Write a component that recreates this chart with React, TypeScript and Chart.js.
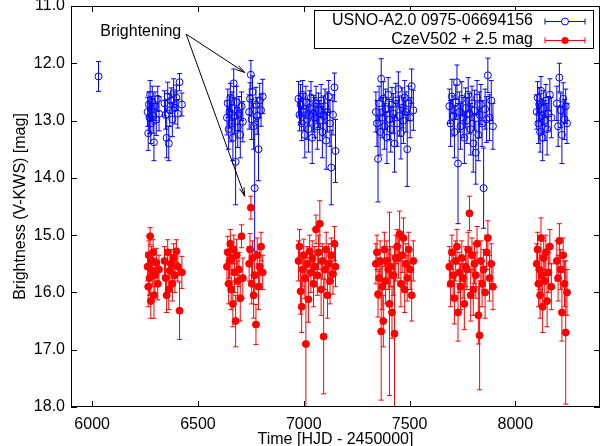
import { useEffect, useRef } from "react";
import { Chart, registerables } from "chart.js";

Chart.register(...registerables);

// Observation times [HJD - 2450000]
const times = [
  6030,
  6262, 6265, 6268, 6271, 6274, 6277, 6280, 6284, 6288, 6292, 6297, 6303, 6310, 6316,
  6342, 6347, 6352, 6357, 6362, 6367, 6373, 6379, 6385, 6391, 6398, 6405, 6413, 6424,
  6637, 6641, 6645, 6649, 6653, 6657, 6661, 6665, 6669, 6673, 6678, 6683, 6688, 6694, 6700, 6706, 6712,
  6742, 6746, 6750, 6754, 6758, 6763, 6768, 6774, 6780, 6786, 6792, 6798, 6806,
  6975, 6980, 6985, 6990, 6995, 7000, 7005, 7010, 7016, 7022, 7028, 7034, 7040, 7046, 7052, 7058,
  7064, 7070, 7076, 7082, 7088, 7094, 7100, 7106, 7112, 7118, 7124, 7130, 7138, 7145, 7150,
  7341, 7346, 7351, 7356, 7361, 7366, 7371, 7376, 7381, 7387, 7393, 7399, 7405, 7411, 7417, 7423,
  7429, 7435, 7441, 7447, 7453, 7459, 7465, 7471, 7477, 7483, 7489, 7496, 7503, 7510, 7518,
  7688, 7694, 7700, 7706, 7712, 7718, 7724, 7729, 7735, 7741, 7747, 7753, 7759, 7765, 7771, 7777, 7783,
  7789, 7795, 7801, 7807, 7813, 7819, 7825, 7831, 7837, 7843, 7850, 7857, 7864, 7870, 7878, 7886, 7894,
  8101, 8105, 8109, 8113, 8117, 8121, 8125, 8129, 8134, 8139, 8144, 8150, 8156, 8163, 8170,
  8196, 8202, 8208, 8214, 8220, 8226, 8232, 8238, 8244,
];

// USNO-A2.0 0975-06694156 magnitudes and errors
const blueMag = [
  12.23,
  12.85, 13.22, 12.72, 12.95, 12.55, 13.05, 12.80, 12.68, 12.92, 13.38, 12.75, 12.98, 12.62, 12.88,
  12.70, 12.90, 13.30, 12.58, 13.40, 12.82, 12.65, 12.98, 12.52, 12.78, 12.60, 12.88, 12.33, 12.72,
  12.95, 12.70, 13.15, 12.85, 12.60, 13.05, 12.78, 13.30, 12.35, 12.92, 13.72, 12.68, 13.12, 12.88, 13.25, 12.75, 13.02,
  12.85, 12.62, 12.20, 12.98, 12.50, 13.10, 14.18, 12.72, 12.92, 13.50, 12.65, 12.82, 12.58,
  12.62, 12.90, 12.72, 13.05, 12.55, 12.85, 13.25, 12.68, 12.98, 13.15, 12.78, 12.60, 13.30, 12.88, 12.95, 12.70,
  13.10, 12.82, 13.00, 12.65, 13.20, 12.92, 12.75, 13.35, 12.85, 12.58, 13.05, 13.82, 12.90, 12.42, 13.53,
  12.85, 13.05, 13.67, 12.70, 13.20, 12.27, 12.95, 12.62, 13.10, 12.80, 13.30, 12.55, 12.98, 13.15, 12.72, 12.88,
  13.40, 12.65, 13.05, 12.45, 12.92, 13.22, 12.78, 13.00, 12.60, 12.85, 13.50, 12.70, 12.95, 12.40, 12.82,
  12.75, 13.05, 12.58, 12.92, 13.20, 12.68, 12.33, 13.75, 12.85, 13.10, 12.62, 12.95, 13.30, 12.78, 13.00, 12.55, 12.88,
  13.15, 12.70, 13.40, 12.82, 13.56, 12.60, 13.25, 12.90, 12.72, 13.05, 14.18, 12.80, 12.98, 12.21, 12.95, 12.65, 13.10,
  12.85, 12.60, 13.05, 12.72, 13.20, 12.48, 12.92, 13.30, 12.78, 13.00, 12.65, 13.15, 12.88, 12.55, 12.95,
  12.70, 13.10, 12.25, 12.82, 13.25, 12.62, 12.98, 12.75, 13.05,
];
const blueErr = [
  0.26,
  0.25, 0.30, 0.22, 0.28, 0.25, 0.35, 0.22, 0.28, 0.30, 0.32, 0.25, 0.28, 0.22, 0.30,
  0.22, 0.25, 0.35, 0.25, 0.30, 0.28, 0.22, 0.30, 0.25, 0.28, 0.22, 0.25, 0.15, 0.20,
  0.30, 0.25, 0.35, 0.28, 0.25, 0.32, 0.28, 0.40, 0.25, 0.30, 0.75, 0.28, 0.35, 0.30, 0.40, 0.25, 0.35,
  0.30, 0.28, 0.25, 0.35, 0.28, 0.40, 1.10, 0.30, 0.32, 0.55, 0.30, 0.28, 0.30,
  0.30, 0.28, 0.35, 0.30, 0.25, 0.32, 0.40, 0.28, 0.35, 0.40, 0.30, 0.28, 0.45, 0.32, 0.35, 0.30,
  0.40, 0.30, 0.35, 0.28, 0.45, 0.35, 0.30, 0.50, 0.35, 0.28, 0.40, 0.65, 0.35, 0.25, 0.55,
  0.35, 0.40, 0.75, 0.30, 0.40, 0.35, 0.35, 0.30, 0.40, 0.35, 0.45, 0.30, 0.35, 0.40, 0.30, 0.35,
  0.50, 0.30, 0.40, 0.30, 0.35, 0.45, 0.35, 0.40, 0.30, 0.35, 0.65, 0.30, 0.35, 0.30, 0.35,
  0.30, 0.40, 0.30, 0.35, 0.45, 0.30, 0.30, 1.05, 0.35, 0.40, 0.30, 0.35, 0.45, 0.35, 0.40, 0.30, 0.35,
  0.45, 0.30, 0.50, 0.35, 0.55, 0.30, 0.45, 0.40, 0.35, 0.40, 0.70, 0.35, 0.40, 0.30, 0.40, 0.35, 0.40,
  0.30, 0.28, 0.35, 0.30, 0.35, 0.25, 0.30, 0.40, 0.30, 0.35, 0.28, 0.45, 0.30, 0.28, 0.35,
  0.30, 0.35, 0.25, 0.30, 0.50, 0.28, 0.35, 0.30, 0.35,
];

// CzeV502 + 2.5 mag magnitudes and errors (no measurement at the first epoch)
const redMag: (number | null)[] = [
  null,
  15.55, 15.90, 15.35, 15.75, 15.02, 16.15, 15.45, 15.62, 15.30, 16.05, 15.70, 15.48, 15.85, 15.60,
  15.45, 15.75, 16.05, 15.30, 15.95, 15.62, 15.50, 15.85, 15.40, 15.70, 15.28, 15.55, 16.32, 15.65,
  15.55, 15.30, 15.85, 15.45, 15.15, 15.95, 15.40, 16.20, 15.25, 15.65, 16.50, 15.35, 15.80, 15.60, 16.10, 15.02, 15.75,
  15.50, 15.25, 14.52, 15.85, 15.40, 16.05, 15.70, 16.56, 15.35, 15.90, 15.55, 15.20, 15.65,
  15.45, 15.20, 15.98, 16.25, 15.60, 15.35, 15.75, 16.90, 15.50, 16.12, 15.28, 15.65, 15.40, 15.85, 15.55, 14.90,
  15.70, 15.30, 14.80, 15.95, 15.45, 16.77, 15.60, 15.25, 16.05, 15.50, 15.80, 15.35, 15.68, 15.15, 15.55,
  15.50, 15.30, 16.03, 15.75, 15.45, 16.68, 15.90, 16.50, 15.25, 15.80, 15.45, 15.60, 16.20, 15.55, 16.35, 15.70,
  16.72, 15.40, 15.20, 15.40, 14.98, 15.85, 15.35, 15.05, 15.95, 15.50, 15.75, 15.25, 15.60, 16.05, 15.45,
  15.55, 15.85, 15.30, 15.70, 16.10, 15.45, 15.20, 16.35, 15.65, 15.90, 15.40, 15.75, 16.20, 15.55, 15.60, 15.25, 14.62,
  16.05, 15.35, 15.95, 15.50, 15.70, 15.15, 16.40, 16.75, 15.45, 15.85, 15.60, 16.00, 15.30, 15.05, 15.75, 15.50, 15.90,
  15.50, 15.25, 15.85, 15.60, 16.05, 15.05, 15.70, 16.25, 15.40, 15.80, 15.30, 16.15, 15.65, 15.20, 15.90,
  15.45, 15.75, 15.10, 15.60, 16.35, 15.35, 15.85, 16.70, 16.00,
];
const redErr = [
  0,
  0.25, 0.35, 0.25, 0.30, 0.15, 0.30, 0.25, 0.28, 0.22, 0.40, 0.30, 0.25, 0.28, 0.25,
  0.25, 0.30, 0.30, 0.22, 0.35, 0.28, 0.25, 0.30, 0.25, 0.30, 0.20, 0.25, 0.50, 0.28,
  0.30, 0.28, 0.35, 0.30, 0.25, 0.35, 0.28, 0.40, 0.25, 0.35, 0.45, 0.28, 0.35, 0.30, 0.40, 0.20, 0.35,
  0.30, 0.28, 0.20, 0.35, 0.30, 0.40, 0.35, 0.35, 0.30, 0.40, 0.30, 0.25, 0.30,
  0.35, 0.30, 0.40, 0.45, 0.30, 0.28, 0.35, 1.40, 0.30, 0.40, 0.28, 0.35, 0.30, 0.40, 0.35, 0.25,
  0.35, 0.30, 0.40, 0.45, 0.30, 1.00, 0.35, 0.30, 0.40, 0.35, 0.40, 0.30, 0.35, 0.30, 0.35,
  0.35, 0.30, 0.40, 0.35, 0.35, 1.20, 0.40, 0.45, 0.30, 0.40, 0.35, 0.35, 1.60, 0.35, 0.45, 0.35,
  1.50, 0.40, 0.30, 0.35, 0.40, 0.40, 0.30, 0.35, 0.40, 0.35, 0.40, 0.30, 0.35, 0.45, 0.35,
  0.35, 0.40, 0.30, 0.35, 0.45, 0.35, 0.30, 0.50, 0.35, 0.40, 0.30, 0.35, 0.45, 0.35, 0.35, 0.30, 0.30,
  0.45, 0.30, 0.45, 0.35, 0.40, 0.30, 0.50, 0.95, 0.35, 0.40, 0.35, 0.45, 0.30, 0.30, 0.40, 0.35, 0.40,
  0.35, 0.30, 0.40, 0.35, 0.40, 0.35, 0.35, 0.45, 0.30, 0.40, 0.30, 0.45, 0.35, 0.30, 0.40,
  0.35, 0.40, 0.30, 0.35, 0.50, 0.30, 0.40, 1.25, 0.40,
];

const xTicks = [6000, 6500, 7000, 7500, 8000];
const yTicks = [11, 12, 13, 14, 15, 16, 17, 18];
const seriesLabels = ["USNO-A2.0 0975-06694156", "CzeV502 + 2.5 mag"];
const seriesColors = ["#0000ff", "#ff0000"];
const annotationText = "Brightening";
// annotation anchor points in data coordinates [time, mag]
const annotationTextAt = [6421, 11.44];
const arrowStart = [6444, 11.49];
const arrowEnds = [
  [6721, 12.16],
  [6721, 14.32],
];

const FONT = "'Liberation Sans', Arial, sans-serif";

const errorBarPlugin = {
  id: "errorBars",
  beforeDatasetDraw(chart: any, args: any) {
    const ds = chart.data.datasets[args.index];
    const errs: number[] = ds.errors;
    if (!errs) return;
    const { ctx, chartArea } = chart;
    const xs = chart.scales.x;
    const ys = chart.scales.y;
    ctx.save();
    ctx.beginPath();
    ctx.rect(chartArea.left, chartArea.top, chartArea.right - chartArea.left, chartArea.bottom - chartArea.top);
    ctx.clip();
    ctx.strokeStyle = ds.borderColor;
    ctx.lineWidth = 1;
    ctx.beginPath();
    ds.data.forEach((p: any, i: number) => {
      const e = errs[i];
      const px = xs.getPixelForValue(p.x);
      const y1 = ys.getPixelForValue(p.y - e);
      const y2 = ys.getPixelForValue(p.y + e);
      ctx.moveTo(px, y1);
      ctx.lineTo(px, y2);
      ctx.moveTo(px - 2.5, y1);
      ctx.lineTo(px + 2.5, y1);
      ctx.moveTo(px - 2.5, y2);
      ctx.lineTo(px + 2.5, y2);
    });
    ctx.stroke();
    ctx.restore();
  },
};

const framePlugin = {
  id: "frameAndDecor",
  afterDraw(chart: any) {
    const { ctx, chartArea } = chart;
    const { left, right, top, bottom } = chartArea;
    const xs = chart.scales.x;
    const ys = chart.scales.y;
    ctx.save();
    // frame
    ctx.strokeStyle = "#000";
    ctx.lineWidth = 1;
    ctx.strokeRect(left + 0.5, top + 0.5, right - left - 1, bottom - top - 1);
    // inward ticks, mirrored
    const tl = 6;
    ctx.beginPath();
    xTicks.forEach((v) => {
      const px = Math.round(xs.getPixelForValue(v)) + 0.5;
      ctx.moveTo(px, bottom);
      ctx.lineTo(px, bottom - tl);
      ctx.moveTo(px, top);
      ctx.lineTo(px, top + tl);
    });
    yTicks.forEach((v) => {
      const py = Math.round(ys.getPixelForValue(v)) + 0.5;
      ctx.moveTo(left, py);
      ctx.lineTo(left + tl, py);
      ctx.moveTo(right, py);
      ctx.lineTo(right - tl, py);
    });
    ctx.stroke();

    // annotation
    ctx.fillStyle = "#000";
    ctx.font = `16px ${FONT}`;
    ctx.textAlign = "right";
    ctx.textBaseline = "middle";
    ctx.fillText(
      annotationText,
      xs.getPixelForValue(annotationTextAt[0]),
      ys.getPixelForValue(annotationTextAt[1])
    );
    const sx = xs.getPixelForValue(arrowStart[0]);
    const sy = ys.getPixelForValue(arrowStart[1]);
    ctx.lineWidth = 1;
    arrowEnds.forEach(([ex0, ey0]) => {
      const ex = xs.getPixelForValue(ex0);
      const ey = ys.getPixelForValue(ey0);
      ctx.beginPath();
      ctx.moveTo(sx, sy);
      ctx.lineTo(ex, ey);
      const ang = Math.atan2(ey - sy, ex - sx);
      const hl = 9;
      const ha = 0.26;
      ctx.moveTo(ex - hl * Math.cos(ang - ha), ey - hl * Math.sin(ang - ha));
      ctx.lineTo(ex, ey);
      ctx.lineTo(ex - hl * Math.cos(ang + ha), ey - hl * Math.sin(ang + ha));
      ctx.stroke();
    });

    // legend (key)
    const boxR = right - 7;
    const boxL = boxR - 279;
    const boxT = top + 4;
    const boxB = boxT + 38;
    ctx.fillStyle = "#fff";
    ctx.fillRect(boxL, boxT, boxR - boxL, boxB - boxT);
    ctx.strokeStyle = "#000";
    ctx.strokeRect(Math.round(boxL) + 0.5, Math.round(boxT) + 0.5, boxR - boxL, boxB - boxT);
    seriesLabels.forEach((label, i) => {
      const cy = boxT + 10.5 + i * 19;
      ctx.fillStyle = "#000";
      ctx.textAlign = "right";
      ctx.fillText(label, boxR - 60, cy);
      const x1 = boxR - 48;
      const x2 = boxR - 8;
      const yy = Math.round(cy) + 0.5;
      ctx.strokeStyle = seriesColors[i];
      ctx.beginPath();
      ctx.moveTo(x1, yy);
      ctx.lineTo(x2, yy);
      ctx.moveTo(x1, yy - 3);
      ctx.lineTo(x1, yy + 3);
      ctx.moveTo(x2, yy - 3);
      ctx.lineTo(x2, yy + 3);
      ctx.stroke();
      const mx = (x1 + x2) / 2;
      ctx.beginPath();
      ctx.arc(mx, yy, 3.5, 0, Math.PI * 2);
      if (i === 0) {
        ctx.fillStyle = "#fff";
        ctx.fill();
        ctx.stroke();
      } else {
        ctx.fillStyle = seriesColors[i];
        ctx.fill();
      }
    });
    ctx.restore();
  },
};

export default function App() {
  const ref = useRef<HTMLCanvasElement>(null);
  useEffect(() => {
    const bluePts = times.map((t, i) => ({ x: t, y: blueMag[i] }));
    const redPts: { x: number; y: number }[] = [];
    const redE: number[] = [];
    times.forEach((t, i) => {
      const v = redMag[i];
      if (v !== null) {
        redPts.push({ x: t, y: v });
        redE.push(redErr[i]);
      }
    });
    const chart = new Chart(ref.current as HTMLCanvasElement, {
      type: "scatter",
      data: {
        datasets: [
          {
            label: seriesLabels[0],
            data: bluePts,
            errors: blueErr,
            order: 1,
            borderColor: seriesColors[0],
            backgroundColor: "rgba(0,0,0,0)",
            pointBorderColor: seriesColors[0],
            pointBackgroundColor: "rgba(0,0,0,0)",
            pointRadius: 3.5,
            pointBorderWidth: 1,
            showLine: false,
          } as any,
          {
            label: seriesLabels[1],
            data: redPts,
            errors: redE,
            order: 0,
            borderColor: seriesColors[1],
            backgroundColor: seriesColors[1],
            pointBorderColor: seriesColors[1],
            pointBackgroundColor: seriesColors[1],
            pointRadius: 3.5,
            pointBorderWidth: 1,
            showLine: false,
          } as any,
        ],
      },
      options: {
        responsive: false,
        animation: false,
        events: [],
        layout: { padding: { top: 6, right: 3, left: 0, bottom: 0 } },
        plugins: {
          legend: { display: false },
          tooltip: { enabled: false },
        },
        scales: {
          x: {
            type: "linear",
            min: 5900,
            max: 8400,
            grid: { display: false, drawTicks: false },
            border: { display: false },
            afterBuildTicks: (s: any) => {
              s.ticks = xTicks.map((v) => ({ value: v }));
            },
            afterFit: (s: any) => {
              s.height = 39;
              s.paddingLeft = 0;
              s.paddingRight = 0;
            },
            ticks: {
              autoSkip: false,
              maxRotation: 0,
              padding: 8,
              color: "#000",
              font: { family: FONT, size: 16 },
              callback: (v: any) => String(v),
            },
            title: {
              display: true,
              text: "Time [HJD - 2450000]",
              color: "#000",
              font: { family: FONT, size: 16, lineHeight: 0.75 },
              padding: { top: 0, bottom: 0 },
            },
          },
          y: {
            type: "linear",
            min: 11,
            max: 18,
            reverse: true,
            grid: { display: false, drawTicks: false },
            border: { display: false },
            afterBuildTicks: (s: any) => {
              s.ticks = yTicks.map((v) => ({ value: v }));
            },
            afterFit: (s: any) => {
              s.width = 71;
              s.paddingTop = 0;
              s.paddingBottom = 0;
            },
            ticks: {
              autoSkip: false,
              padding: 6,
              color: "#000",
              font: { family: FONT, size: 16 },
              callback: (v: any) => Number(v).toFixed(1),
            },
            title: {
              display: true,
              text: "Brightness (V-KWS) [mag]",
              color: "#000",
              font: { family: FONT, size: 16, lineHeight: 0.75 },
              padding: { top: 15, bottom: 0 },
            },
          },
        },
      },
      plugins: [errorBarPlugin, framePlugin],
    } as any);
    return () => chart.destroy();
  }, []);
  return (
    <div
      style={{
        position: "fixed",
        left: 0,
        top: 0,
        width: 605,
        height: 446,
        background: "#fff",
      }}
    >
      <canvas ref={ref} width={605} height={446} style={{ display: "block" }} />
    </div>
  );
}
